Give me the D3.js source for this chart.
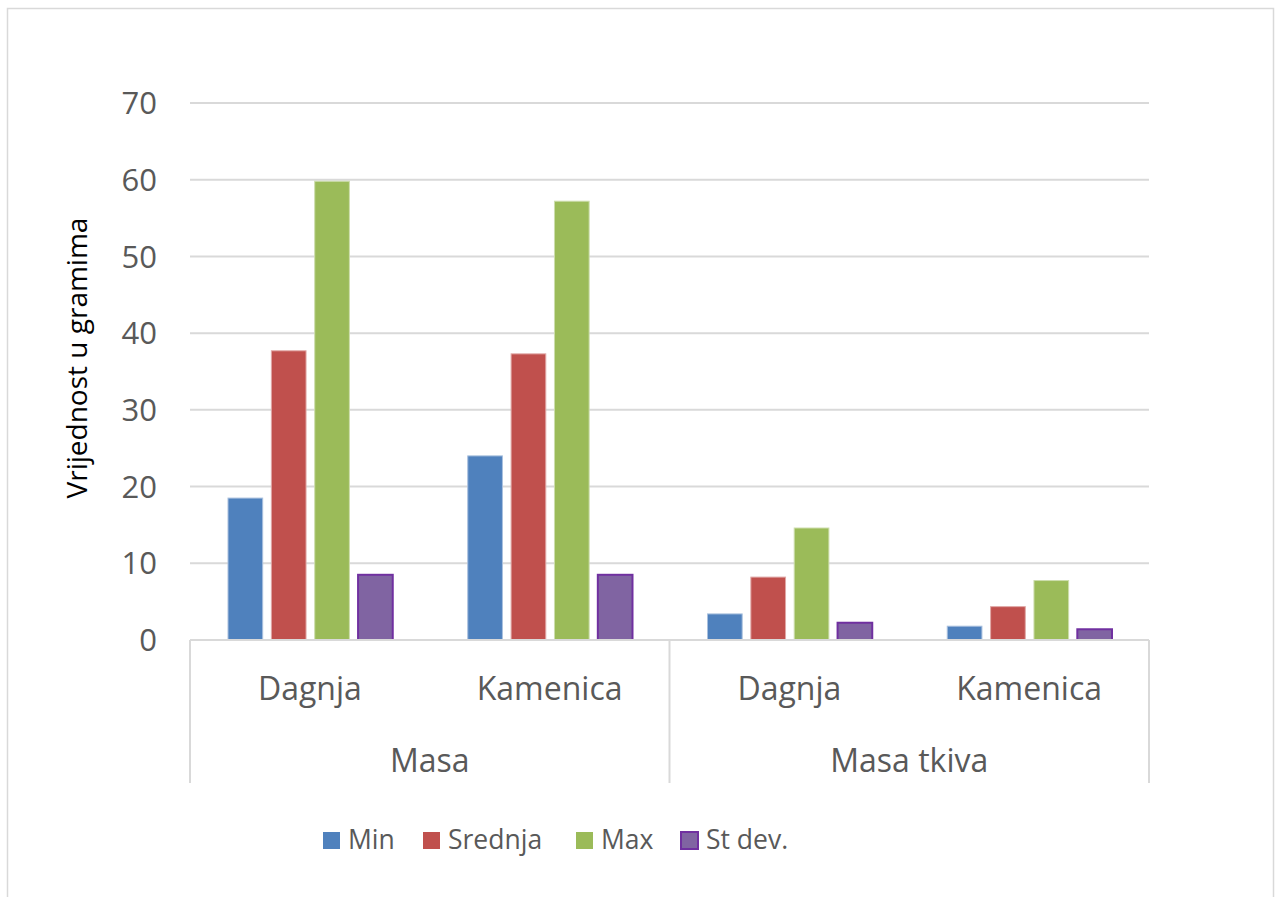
<!DOCTYPE html>
<html>
<head>
<meta charset="utf-8">
<script src="https://cdn.jsdelivr.net/npm/d3@7"></script>
<style>
  body { margin: 0; background: #fff; }
  text { font-family: "Open Sans", sans-serif; }
</style>
</head>
<body>
<div id="chart"></div>
<script>
// data
var groups = ['Masa', 'Masa tkiva']
var species = ['Dagnja', 'Kamenica']
var seriesNames = ['Min', 'Srednja', 'Max', 'St dev.']
var minVals = [18.5, 24.0, 3.4, 1.8]
var srednjaVals = [37.7, 37.3, 8.2, 4.35]
var maxVals = [59.8, 57.2, 14.6, 7.75]
var stdevVals = [8.5, 8.5, 2.25, 1.4]
var yTicks = [0, 10, 20, 30, 40, 50, 60, 70]

var colors = ['#4F81BD', '#C0504D', '#9BBB59', '#8064A2']
var strokes = ['#A9C0DE', '#E0A8A6', '#CDDDAC', '#7030A0']

var categories = []
groups.forEach(function(g) {
    species.forEach(function(s) { categories.push({ group: g, name: s, key: g + '|' + s }) })
})
var allVals = [minVals, srednjaVals, maxVals, stdevVals]

var W = 1276, H = 897
var margin = { top: 103, left: 190, right: 127, bottom: 257 }
var plotW = W - margin.left - margin.right
var plotH = H - margin.top - margin.bottom

var svg = d3.select('#chart').append('svg')
    .attr('width', W)
    .attr('height', H)

// outer chart border
svg.append('rect')
    .attr('x', 7.5).attr('y', 8.5)
    .attr('width', 1266).attr('height', 900)
    .attr('fill', 'none')
    .attr('stroke', '#D9D9D9')
    .attr('stroke-width', 1.5)

var g = svg.append('g').attr('transform', 'translate(' + margin.left + ',' + margin.top + ')')

var x0 = d3.scaleBand().domain(categories.map(function(d) { return d.key })).range([0, plotW]).padding(0)
var x1 = d3.scaleBand().domain(seriesNames).range([38, x0.bandwidth() - 37]).paddingInner(0.2)
var y = d3.scaleLinear().domain([0, 70]).range([plotH, 0])

// gridlines
g.selectAll('.grid')
    .data(yTicks.filter(function(t) { return t > 0 }))
    .enter().append('line')
    .attr('x1', 0).attr('x2', plotW)
    .attr('y1', function(d) { return y(d) }).attr('y2', function(d) { return y(d) })
    .attr('stroke', '#D9D9D9').attr('stroke-width', 2)

// y tick labels
g.selectAll('.ytick')
    .data(yTicks)
    .enter().append('text')
    .attr('x', -33)
    .attr('y', function(d) { return y(d) })
    .attr('dy', '0.36em')
    .attr('text-anchor', 'end')
    .attr('fill', '#595959')
    .style('font-size', '31px')
    .text(function(d) { return d })

// bars
var cat = g.selectAll('.cat')
    .data(categories)
    .enter().append('g')
    .attr('transform', function(d) { return 'translate(' + x0(d.key) + ',0)' })

cat.selectAll('rect')
    .data(function(d, ci) { return seriesNames.map(function(s, si) { return { s: s, si: si, v: allVals[si][ci] } }) })
    .enter().append('rect')
    .attr('x', function(d) { return x1(d.s) })
    .attr('width', x1.bandwidth())
    .attr('y', function(d) { return y(d.v) })
    .attr('height', function(d) { return plotH - y(d.v) })
    .attr('fill', function(d) { return colors[d.si] })
    .attr('stroke', function(d) { return strokes[d.si] })
    .attr('stroke-width', function(d) { return d.si == 3 ? 2 : 1 })

// category axis
var axisBottom = 143
g.append('line')
    .attr('x1', 0).attr('x2', plotW)
    .attr('y1', plotH).attr('y2', plotH)
    .attr('stroke', '#D9D9D9').attr('stroke-width', 2)

var seps = [0, x0(categories[2].key), plotW]
g.selectAll('.sep')
    .data(seps)
    .enter().append('line')
    .attr('x1', function(d) { return d }).attr('x2', function(d) { return d })
    .attr('y1', plotH).attr('y2', plotH + axisBottom)
    .attr('stroke', '#D9D9D9').attr('stroke-width', 2)

g.selectAll('.catlabel')
    .data(categories)
    .enter().append('text')
    .attr('x', function(d) { return x0(d.key) + x0.bandwidth() / 2 })
    .attr('y', plotH + 60)
    .attr('text-anchor', 'middle')
    .attr('fill', '#595959')
    .style('font-size', '32px')
    .text(function(d) { return d.name })

g.selectAll('.grouplabel')
    .data(groups)
    .enter().append('text')
    .attr('x', function(d, i) { return x0(categories[i * 2].key) + x0.bandwidth() })
    .attr('y', plotH + 132)
    .attr('text-anchor', 'middle')
    .attr('fill', '#595959')
    .style('font-size', '32px')
    .text(function(d) { return d })

// y axis title
svg.append('text')
    .attr('transform', 'translate(87,358) rotate(-90)')
    .attr('text-anchor', 'middle')
    .attr('fill', '#000')
    .style('font-size', '28px')
    .text('Vrijednost u gramima')

// legend
var legendX = [323, 423, 576, 681]
var legend = svg.selectAll('.legend')
    .data(seriesNames)
    .enter().append('g')
    .attr('transform', function(d, i) { return 'translate(' + legendX[i] + ',832)' })

legend.append('rect')
    .attr('width', 17).attr('height', 17)
    .attr('fill', function(d, i) { return colors[i] })
    .attr('stroke', function(d, i) { return i == 3 ? strokes[3] : 'none' })
    .attr('stroke-width', 2)

legend.append('text')
    .attr('x', 25)
    .attr('y', 17)
    .attr('fill', '#595959')
    .style('font-size', '26.5px')
    .text(function(d) { return d })
</script>
</body>
</html>
